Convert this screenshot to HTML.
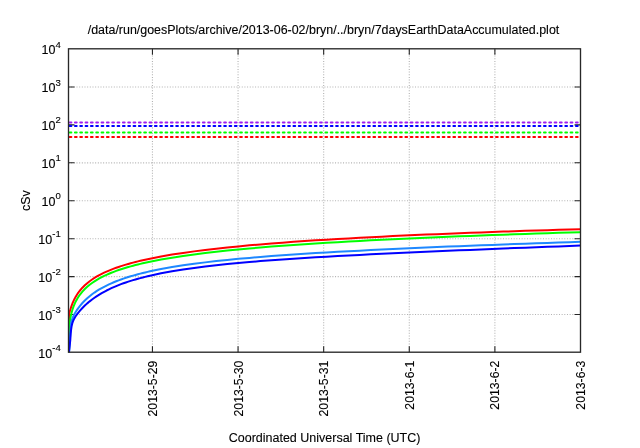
<!DOCTYPE html><html><head><meta charset="utf-8"><style>html,body{margin:0;padding:0;background:#fff;width:640px;height:448px;overflow:hidden}svg{display:block;will-change:transform}text{font-family:"Liberation Sans",sans-serif;fill:#000;stroke:#000;stroke-width:0.12px}</style></head><body>
<svg width="640" height="448" viewBox="0 0 640 448">
<g stroke="#b2b2b2" stroke-width="1.1" stroke-dasharray="1 1.6656" fill="none"><line x1="68.5" y1="87.02" x2="580.5" y2="87.02"/><line x1="68.5" y1="162.88" x2="580.5" y2="162.88"/><line x1="68.5" y1="200.80" x2="580.5" y2="200.80"/><line x1="68.5" y1="238.73" x2="580.5" y2="238.73"/><line x1="68.5" y1="276.65" x2="580.5" y2="276.65"/><line x1="68.5" y1="314.57" x2="580.5" y2="314.57"/><line x1="152.45" y1="48.8" x2="152.45" y2="352.2" stroke-dashoffset="-1.45"/><line x1="238.06" y1="48.8" x2="238.06" y2="352.2" stroke-dashoffset="-1.45"/><line x1="323.67" y1="48.8" x2="323.67" y2="352.2" stroke-dashoffset="-1.45"/><line x1="409.28" y1="48.8" x2="409.28" y2="352.2" stroke-dashoffset="-1.45"/><line x1="494.89" y1="48.8" x2="494.89" y2="352.2" stroke-dashoffset="-1.45"/></g>
<path d="M68.5 86.97h6M580.5 86.97h-6M68.5 124.90h6M580.5 124.90h-6M68.5 162.82h6M580.5 162.82h-6M68.5 200.75h6M580.5 200.75h-6M68.5 238.68h6M580.5 238.68h-6M68.5 276.60h6M580.5 276.60h-6M68.5 314.52h6M580.5 314.52h-6M152.45 352.2v-6M152.45 48.8v6M238.06 352.2v-6M238.06 48.8v6M323.67 352.2v-6M323.67 48.8v6M409.28 352.2v-6M409.28 48.8v6M494.89 352.2v-6M494.89 48.8v6" stroke="#262626" stroke-width="1.1" fill="none"/>
<line x1="69.6" y1="122.4" x2="579.9" y2="122.4" stroke="#a020f0" stroke-width="2" stroke-linecap="round" stroke-dasharray="1.75 3.58"/>
<line x1="69.6" y1="125.95" x2="579.9" y2="125.95" stroke="#0000ff" stroke-width="2" stroke-linecap="round" stroke-dasharray="1.75 3.58"/>
<line x1="69.6" y1="132.5" x2="579.9" y2="132.5" stroke="#00ff00" stroke-width="2" stroke-linecap="round" stroke-dasharray="1.75 3.58"/>
<line x1="69.6" y1="137.05" x2="579.9" y2="137.05" stroke="#ff0000" stroke-width="2" stroke-linecap="round" stroke-dasharray="1.75 3.58"/>
<polyline points="69.0,352.2 69.00,314.04 69.46,312.59 69.92,311.03 70.38,309.48 70.83,308.01 71.29,306.63 71.75,305.33 72.21,304.11 72.67,302.97 73.12,301.89 73.58,300.87 74.04,299.90 74.50,298.98 74.96,298.11 75.42,297.27 75.88,296.47 76.33,295.70 76.79,294.96 77.25,294.26 77.71,293.57 78.17,292.91 78.62,292.28 79.08,291.66 79.54,291.07 80.00,290.49 82.41,287.71 84.83,285.30 87.24,283.17 89.66,281.25 92.07,279.52 94.48,277.94 96.90,276.48 99.31,275.13 101.72,273.88 104.14,272.71 106.55,271.61 108.97,270.57 111.38,269.59 113.79,268.66 116.21,267.78 118.62,266.94 121.03,266.14 123.45,265.38 125.86,264.65 128.28,263.94 130.69,263.27 133.10,262.62 135.52,261.99 137.93,261.39 140.34,260.81 142.76,260.25 145.17,259.70 147.59,259.17 150.00,258.66 161.04,256.51 172.08,254.61 183.12,252.91 194.15,251.37 205.19,249.97 216.23,248.68 227.27,247.50 238.31,246.40 249.35,245.37 260.38,244.41 271.42,243.51 282.46,242.66 293.50,241.85 304.54,241.09 315.58,240.36 326.62,239.67 337.65,239.01 348.69,238.38 359.73,237.78 370.77,237.20 381.81,236.64 392.85,236.10 403.88,235.59 414.92,235.09 425.96,234.60 437.00,234.14 448.04,233.68 459.08,233.25 470.12,232.82 481.15,232.41 492.19,232.01 503.23,231.62 514.27,231.24 525.31,230.87 536.35,230.51 547.38,230.16 558.42,229.81 569.46,229.48 580.50,229.15" stroke="#ff0000" stroke-width="2" fill="none" stroke-linejoin="round"/>
<polyline points="69.0,352.2 69.70,323.28 70.13,319.89 70.56,317.30 70.99,315.15 71.42,313.30 71.85,311.66 72.28,310.17 72.70,308.82 73.13,307.57 73.56,306.41 73.99,305.32 74.42,304.30 74.85,303.33 75.28,302.42 75.71,301.55 76.14,300.72 76.57,299.93 77.00,299.17 77.42,298.44 77.85,297.74 78.28,297.07 78.71,296.42 79.14,295.79 79.57,295.18 80.00,294.60 82.41,291.61 84.83,289.04 87.24,286.78 89.66,284.78 92.07,282.97 94.48,281.33 96.90,279.82 99.31,278.43 101.72,277.14 104.14,275.93 106.55,274.81 108.97,273.75 111.38,272.75 113.79,271.81 116.21,270.91 118.62,270.06 121.03,269.25 123.45,268.47 125.86,267.73 128.28,267.02 130.69,266.34 133.10,265.69 135.52,265.06 137.93,264.45 140.34,263.87 142.76,263.30 145.17,262.75 147.59,262.23 150.00,261.71 161.04,259.56 172.08,257.66 183.12,255.96 194.15,254.43 205.19,253.04 216.23,251.76 227.27,250.58 238.31,249.49 249.35,248.47 260.38,247.51 271.42,246.62 282.46,245.77 293.50,244.97 304.54,244.21 315.58,243.49 326.62,242.80 337.65,242.14 348.69,241.51 359.73,240.91 370.77,240.33 381.81,239.77 392.85,239.23 403.88,238.71 414.92,238.21 425.96,237.72 437.00,237.25 448.04,236.80 459.08,236.35 470.12,235.92 481.15,235.51 492.19,235.10 503.23,234.70 514.27,234.32 525.31,233.94 536.35,233.57 547.38,233.21 558.42,232.86 569.46,232.52 580.50,232.18" stroke="#00ff00" stroke-width="2" fill="none" stroke-linejoin="round"/>
<polyline points="69.0,352.2 71.00,323.38 71.38,321.73 71.75,320.39 72.12,319.24 72.50,318.23 72.88,317.31 73.25,316.46 73.62,315.67 74.00,314.92 74.38,314.21 74.75,313.53 75.12,312.87 75.50,312.24 75.88,311.62 76.25,311.03 76.62,310.45 77.00,309.89 77.38,309.34 77.75,308.81 78.12,308.28 78.50,307.77 78.88,307.27 79.25,306.78 79.62,306.31 80.00,305.84 82.41,303.02 84.83,300.51 87.24,298.25 89.66,296.19 92.07,294.30 94.48,292.56 96.90,290.95 99.31,289.46 101.72,288.06 104.14,286.76 106.55,285.53 108.97,284.38 111.38,283.29 113.79,282.26 116.21,281.28 118.62,280.35 121.03,279.46 123.45,278.62 125.86,277.81 128.28,277.04 130.69,276.31 133.10,275.60 135.52,274.92 137.93,274.26 140.34,273.64 142.76,273.03 145.17,272.45 147.59,271.88 150.00,271.34 161.04,269.06 172.08,267.08 183.12,265.34 194.15,263.78 205.19,262.38 216.23,261.11 227.27,259.95 238.31,258.87 249.35,257.88 260.38,256.96 271.42,256.10 282.46,255.28 293.50,254.52 304.54,253.79 315.58,253.10 326.62,252.45 337.65,251.82 348.69,251.22 359.73,250.64 370.77,250.08 381.81,249.54 392.85,249.02 403.88,248.51 414.92,248.02 425.96,247.54 437.00,247.07 448.04,246.62 459.08,246.17 470.12,245.73 481.15,245.31 492.19,244.89 503.23,244.48 514.27,244.07 525.31,243.67 536.35,243.28 547.38,242.89 558.42,242.51 569.46,242.13 580.50,241.76" stroke="#1e88ff" stroke-width="2" fill="none" stroke-linejoin="round"/>
<polyline points="69.0,352.2 70.30,339.78 70.70,333.54 71.11,329.60 71.51,326.88 71.92,324.88 72.32,323.31 72.72,322.04 73.13,320.96 73.53,320.02 73.94,319.18 74.34,318.41 74.75,317.69 75.15,317.02 75.55,316.39 75.96,315.78 76.36,315.20 76.77,314.63 77.17,314.08 77.58,313.55 77.98,313.03 78.38,312.53 78.79,312.03 79.19,311.55 79.60,311.07 80.00,310.60 82.41,307.98 84.83,305.58 87.24,303.38 89.66,301.35 92.07,299.47 94.48,297.72 96.90,296.09 99.31,294.56 101.72,293.13 104.14,291.78 106.55,290.51 108.97,289.31 111.38,288.18 113.79,287.10 116.21,286.08 118.62,285.11 121.03,284.19 123.45,283.30 125.86,282.46 128.28,281.65 130.69,280.88 133.10,280.14 135.52,279.43 137.93,278.75 140.34,278.09 142.76,277.46 145.17,276.86 147.59,276.27 150.00,275.70 161.04,273.35 172.08,271.31 183.12,269.52 194.15,267.94 205.19,266.53 216.23,265.25 227.27,264.09 238.31,263.02 249.35,262.04 260.38,261.12 271.42,260.27 282.46,259.47 293.50,258.72 304.54,258.00 315.58,257.33 326.62,256.68 337.65,256.06 348.69,255.46 359.73,254.88 370.77,254.32 381.81,253.78 392.85,253.26 403.88,252.75 414.92,252.24 425.96,251.75 437.00,251.27 448.04,250.80 459.08,250.34 470.12,249.88 481.15,249.43 492.19,248.98 503.23,248.54 514.27,248.10 525.31,247.67 536.35,247.24 547.38,246.81 558.42,246.38 569.46,245.96 580.50,245.54" stroke="#0000ff" stroke-width="2" fill="none" stroke-linejoin="round"/>
<rect x="68.5" y="48.8" width="512.00" height="303.40" stroke="#282828" stroke-width="1.35" fill="none"/>
<text x="323.5" y="34.3" font-size="12.45" text-anchor="middle">/data/run/goesPlots/archive/2013-06-02/bryn/../bryn/7daysEarthDataAccumulated.plot</text>
<text x="324.6" y="442.4" font-size="12.5" text-anchor="middle">Coordinated Universal Time (UTC)</text>
<text transform="translate(29.95 200.7) rotate(-90)" font-size="12.5" text-anchor="middle">cSv</text>
<text x="38.35" y="357.50" font-size="12.5">10<tspan font-size="9.6" dy="-6.5">-4</tspan></text>
<text x="38.35" y="319.57" font-size="12.5">10<tspan font-size="9.6" dy="-6.5">-3</tspan></text>
<text x="38.35" y="281.65" font-size="12.5">10<tspan font-size="9.6" dy="-6.5">-2</tspan></text>
<text x="38.35" y="243.73" font-size="12.5">10<tspan font-size="9.6" dy="-6.5">-1</tspan></text>
<text x="41.60" y="205.80" font-size="12.5">10<tspan font-size="9.6" dy="-6.5">0</tspan></text>
<text x="41.60" y="167.88" font-size="12.5">10<tspan font-size="9.6" dy="-6.5">1</tspan></text>
<text x="41.60" y="129.95" font-size="12.5">10<tspan font-size="9.6" dy="-6.5">2</tspan></text>
<text x="41.60" y="92.03" font-size="12.5">10<tspan font-size="9.6" dy="-6.5">3</tspan></text>
<text x="41.60" y="54.10" font-size="12.5">10<tspan font-size="9.6" dy="-6.5">4</tspan></text>
<text transform="translate(156.95 360.6) rotate(-90)" font-size="12.25" text-anchor="end">2013-5-29</text>
<text transform="translate(242.56 360.6) rotate(-90)" font-size="12.25" text-anchor="end">2013-5-30</text>
<text transform="translate(328.17 360.6) rotate(-90)" font-size="12.25" text-anchor="end">2013-5-31</text>
<text transform="translate(413.78 360.6) rotate(-90)" font-size="12.25" text-anchor="end">2013-6-1</text>
<text transform="translate(499.39 360.6) rotate(-90)" font-size="12.25" text-anchor="end">2013-6-2</text>
<text transform="translate(585.00 360.6) rotate(-90)" font-size="12.25" text-anchor="end">2013-6-3</text>
</svg></body></html>
